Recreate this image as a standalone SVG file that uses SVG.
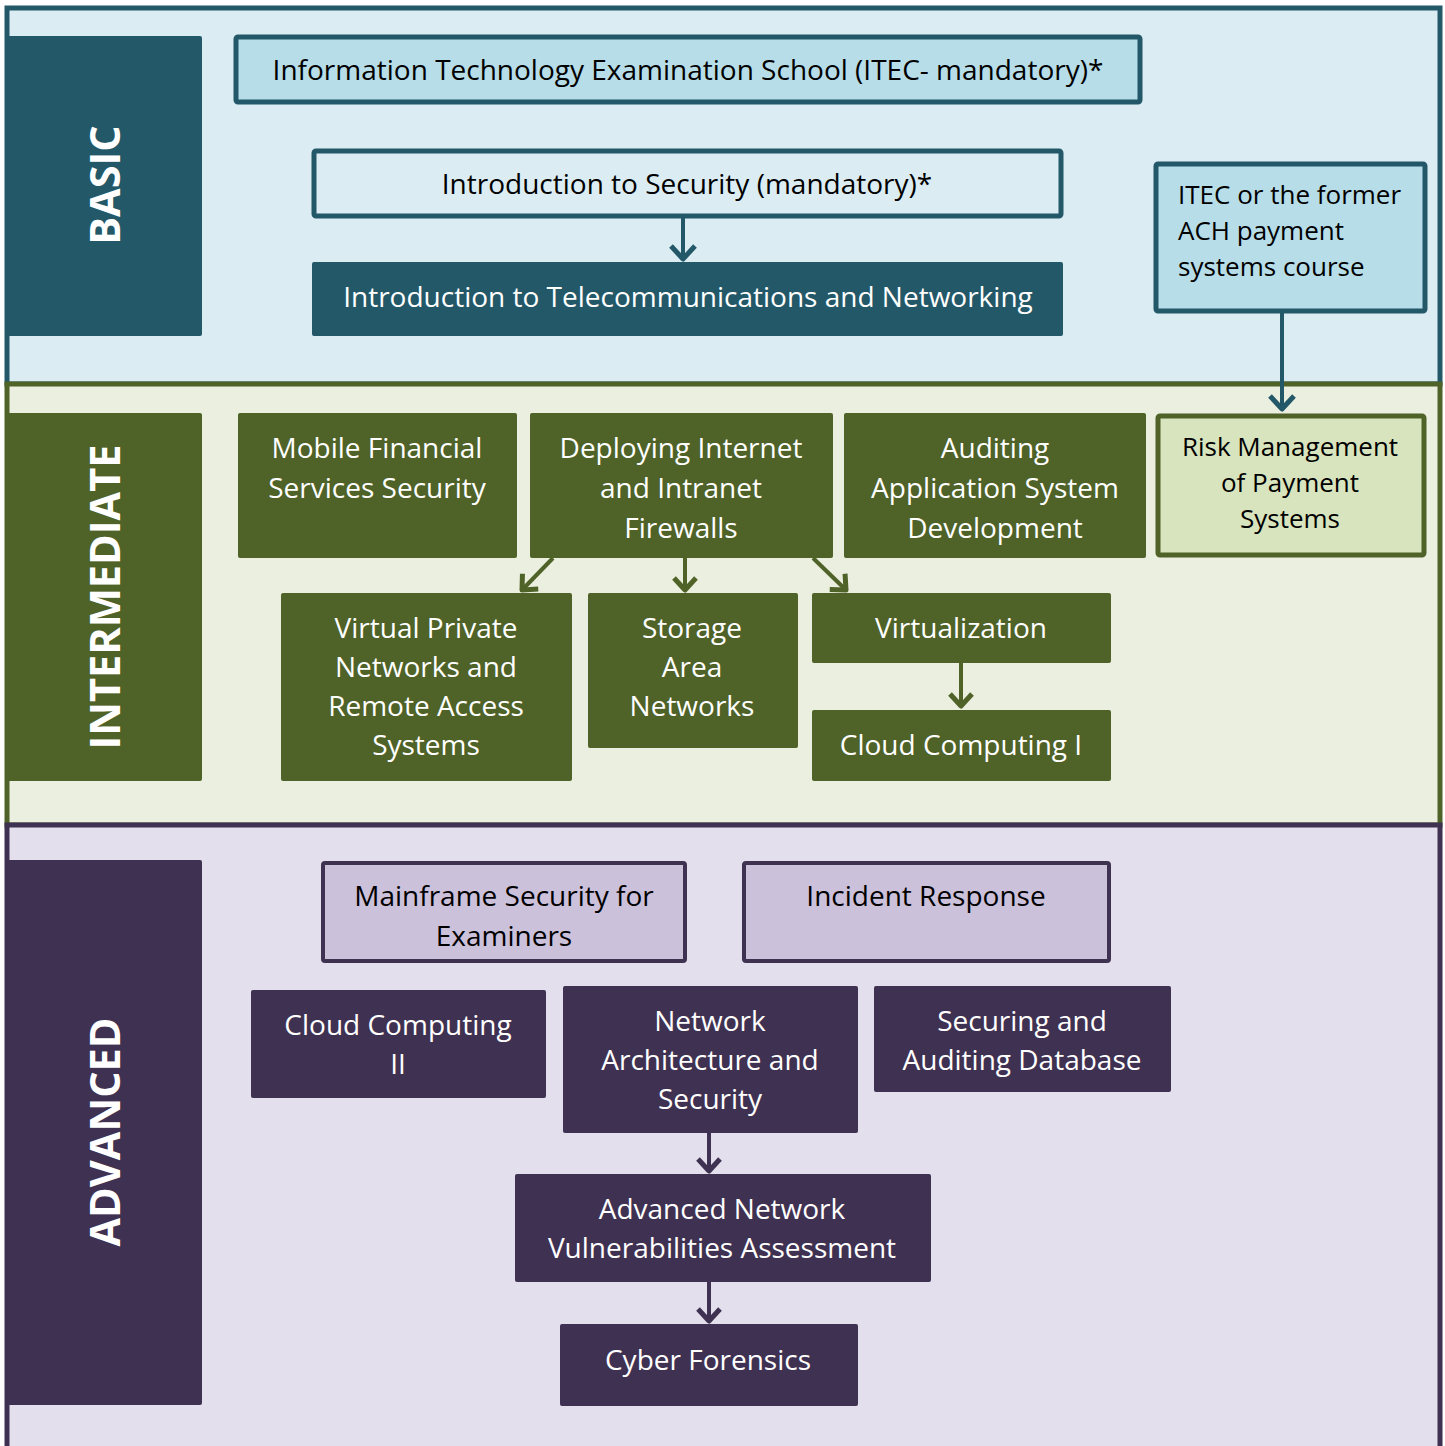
<svg xmlns="http://www.w3.org/2000/svg" width="1445" height="1446" viewBox="0 0 1445 1446">
<defs>
<style>
text{font-family:"Open Sans","Liberation Sans",sans-serif;font-size:28px;text-anchor:middle}
.s26{font-size:26px}
.w{fill:#ffffff}
.k{fill:#000000}
.lbl{font-weight:bold;font-size:41.5px;fill:#ffffff}
.teal{fill:#235868}
.olive{fill:#4f6228}
.purp{fill:#3f3151}
.cb{stroke:#235868;stroke-width:5}
.co{stroke:#4f6228;stroke-width:5}
.cp{stroke:#3f3151;stroke-width:4}
.conn line{stroke-width:4;fill:none}
</style>
<marker id="aT" markerUnits="userSpaceOnUse" markerWidth="34" markerHeight="34" viewBox="-17 -17 34 34" refX="0" refY="0" orient="auto"><path d="M-13,-12 L0,0 L-13,12" fill="none" stroke="#235868" stroke-width="5" stroke-linejoin="round"/></marker>
<marker id="aO" markerUnits="userSpaceOnUse" markerWidth="34" markerHeight="34" viewBox="-17 -17 34 34" refX="0" refY="0" orient="auto"><path d="M-12,-11 L0,0 L-12,11" fill="none" stroke="#4f6228" stroke-width="5" stroke-linejoin="round"/></marker>
<marker id="aP" markerUnits="userSpaceOnUse" markerWidth="34" markerHeight="34" viewBox="-17 -17 34 34" refX="0" refY="0" orient="auto"><path d="M-12,-11 L0,0 L-12,11" fill="none" stroke="#3f3151" stroke-width="5" stroke-linejoin="round"/></marker>
</defs>
<rect width="1445" height="1446" fill="#ffffff"/>
<g id="bands">
<rect x="7" y="8" width="1433" height="376" fill="#dbedf3" stroke="#235868" stroke-width="5"/>
<rect x="7" y="384" width="1433" height="441" fill="#ebefe0" stroke="#4f6228" stroke-width="5"/>
<rect x="7" y="825" width="1433" height="640" fill="#e4dfec" stroke="#3f3151" stroke-width="5"/>
</g>
<g id="label-basic"><rect x="5" y="36" width="197" height="300" rx="2" class="teal"/><text class="lbl" transform="translate(120,185) rotate(-90)">BASIC</text></g>
<g id="label-intermediate"><rect x="5" y="413" width="197" height="368" rx="2" class="olive"/><text class="lbl" transform="translate(120,597) rotate(-90)">INTERMEDIATE</text></g>
<g id="label-advanced"><rect x="5" y="860" width="197" height="545" rx="2" class="purp"/><text class="lbl" transform="translate(120,1132) rotate(-90)">ADVANCED</text></g>

<g id="itec"><rect x="236" y="37" width="904" height="65" rx="2" fill="#b7dde8" class="cb"/><text class="k" x="688" y="80">Information Technology Examination School (ITEC- mandatory)*</text></g>
<g id="intro-security"><rect x="314" y="151" width="747" height="65" rx="2" fill="#dbedf3" class="cb"/><text class="k" x="687" y="194">Introduction to Security (mandatory)*</text></g>
<g id="intro-telecom"><rect x="312" y="262" width="751" height="74" rx="2" class="teal"/><text class="w" x="688" y="307">Introduction to Telecommunications and Networking</text></g>
<g id="itec-ach"><rect x="1156" y="164" width="269" height="147" rx="2" fill="#b7dde8" class="cb"/><text class="k s26" style="text-anchor:start" x="1178" y="204">ITEC or the former</text><text class="k s26" style="text-anchor:start" x="1178" y="240">ACH payment</text><text class="k s26" style="text-anchor:start" x="1178" y="276">systems course</text></g>

<g id="risk"><rect x="1158" y="416" width="266" height="139" rx="2" fill="#d7e4bd" class="co"/><text class="k s26" x="1290" y="456">Risk Management</text><text class="k s26" x="1290" y="492">of Payment</text><text class="k s26" x="1290" y="528">Systems</text></g>
<g id="mobile"><rect x="238" y="413" width="279" height="145" rx="2" class="olive"/><text class="w" x="377" y="458">Mobile Financial</text><text class="w" x="377" y="498">Services Security</text></g>
<g id="firewalls"><rect x="530" y="413" width="303" height="145" rx="2" class="olive"/><text class="w" x="681" y="458">Deploying Internet</text><text class="w" x="681" y="498">and Intranet</text><text class="w" x="681" y="538">Firewalls</text></g>
<g id="auditing-app"><rect x="844" y="413" width="302" height="145" rx="2" class="olive"/><text class="w" x="995" y="458">Auditing</text><text class="w" x="995" y="498">Application System</text><text class="w" x="995" y="538">Development</text></g>
<g id="vpn"><rect x="281" y="593" width="291" height="188" rx="2" class="olive"/><text class="w" x="426" y="638">Virtual Private</text><text class="w" x="426" y="677">Networks and</text><text class="w" x="426" y="716">Remote Access</text><text class="w" x="426" y="755">Systems</text></g>
<g id="san"><rect x="588" y="593" width="210" height="155" rx="2" class="olive"/><text class="w" x="692" y="638">Storage</text><text class="w" x="692" y="677">Area</text><text class="w" x="692" y="716">Networks</text></g>
<g id="virtualization"><rect x="812" y="593" width="299" height="70" rx="2" class="olive"/><text class="w" x="961" y="638">Virtualization</text></g>
<g id="cloud1"><rect x="812" y="710" width="299" height="71" rx="2" class="olive"/><text class="w" x="961" y="755">Cloud Computing I</text></g>

<g id="mainframe"><rect x="323" y="863" width="362" height="98" rx="2" fill="#ccc1da" class="cp"/><text class="k" x="504" y="906">Mainframe Security for</text><text class="k" x="504" y="946">Examiners</text></g>
<g id="incident"><rect x="744" y="863" width="365" height="98" rx="2" fill="#ccc1da" class="cp"/><text class="k" x="926" y="906">Incident Response</text></g>
<g id="cloud2"><rect x="251" y="990" width="295" height="108" rx="2" class="purp"/><text class="w" x="398" y="1035">Cloud Computing</text><text class="w" x="398" y="1074">II</text></g>
<g id="netarch"><rect x="563" y="986" width="295" height="147" rx="2" class="purp"/><text class="w" x="710" y="1031">Network</text><text class="w" x="710" y="1070">Architecture and</text><text class="w" x="710" y="1109">Security</text></g>
<g id="securing-db"><rect x="874" y="986" width="297" height="106" rx="2" class="purp"/><text class="w" x="1022" y="1031">Securing and</text><text class="w" x="1022" y="1070">Auditing Database</text></g>
<g id="adv-net"><rect x="515" y="1174" width="416" height="108" rx="2" class="purp"/><text class="w" x="722" y="1219">Advanced Network</text><text class="w" x="722" y="1258">Vulnerabilities Assessment</text></g>
<g id="cyber"><rect x="560" y="1324" width="298" height="82" rx="2" class="purp"/><text class="w" x="708" y="1370">Cyber Forensics</text></g>

<g id="connectors" class="conn">
<line x1="683" y1="217" x2="683" y2="259" stroke="#235868" marker-end="url(#aT)"/>
<line x1="1282" y1="312" x2="1282" y2="409" stroke="#235868" stroke-width="5" marker-end="url(#aT)"/>
<line x1="553" y1="558" x2="522" y2="590" stroke="#4f6228" marker-end="url(#aO)"/>
<line x1="685" y1="558" x2="685" y2="590" stroke="#4f6228" marker-end="url(#aO)"/>
<line x1="813" y1="558" x2="846" y2="590" stroke="#4f6228" marker-end="url(#aO)"/>
<line x1="961" y1="663" x2="961" y2="706" stroke="#4f6228" marker-end="url(#aO)"/>
<line x1="709" y1="1133" x2="709" y2="1171" stroke="#3f3151" marker-end="url(#aP)"/>
<line x1="709" y1="1282" x2="709" y2="1321" stroke="#3f3151" marker-end="url(#aP)"/>
</g>
</svg>
